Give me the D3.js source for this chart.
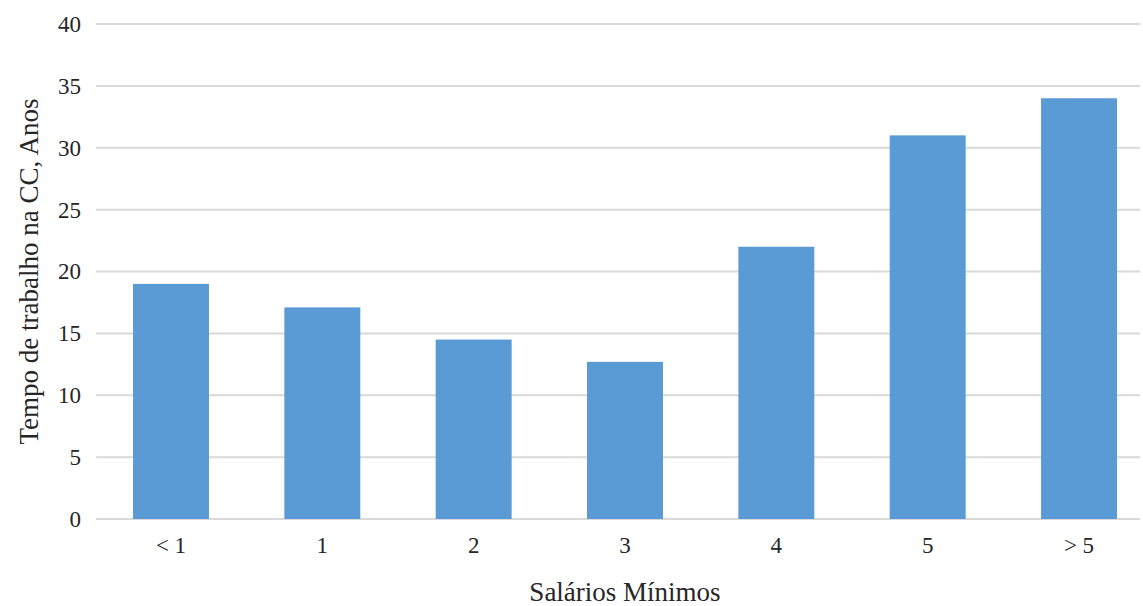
<!DOCTYPE html>
<html>
<head>
<meta charset="utf-8">
<script src="https://cdn.jsdelivr.net/npm/d3@7"></script>
<style>
  html, body { margin: 0; padding: 0; background: #fff; }
  svg { display: block; }
  svg text { font-family: "Liberation Serif", "Times New Roman", "DejaVu Serif", serif; fill: #262626; }
</style>
</head>
<body>
<svg id="chart" width="1143" height="606"></svg>
<script>
// Salary bands (in minimum wages) and mean years worked
const categories = ["< 1", "1", "2", "3", "4", "5", "> 5"];
const years = [19, 17.1, 14.5, 12.7, 22, 31, 34];
const yTicks = [0, 5, 10, 15, 20, 25, 30, 35, 40];
const xTitle = "Salários Mínimos";
const yTitle = "Tempo de trabalho na CC, Anos";

const svg = d3.select("#chart");
const W = 1143, H = 606;
const plot = { left: 96, right: 1140, top: 24, bottom: 519 };

const x = d3.scaleBand()
  .domain(categories)
  .range([plot.left, 1154])
  .paddingInner(0.498)
  .paddingOuter(0.2445);

const y = d3.scaleLinear()
  .domain([0, 40])
  .range([plot.bottom, plot.top]);

// horizontal gridlines
svg.append("g")
  .selectAll("line")
  .data(yTicks)
  .join("line")
  .attr("x1", plot.left)
  .attr("x2", plot.right)
  .attr("y1", d => y(d))
  .attr("y2", d => y(d))
  .attr("stroke", "#d9d9d9")
  .attr("stroke-width", 2);

// y-axis tick labels
const yAxis = svg.append("g")
  .attr("transform", `translate(${plot.left - 15},0)`)
  .call(d3.axisLeft(y).tickValues(yTicks).tickSize(0).tickPadding(0));
yAxis.attr("font-family", null);
yAxis.select(".domain").remove();
yAxis.selectAll("text")
  .attr("font-size", 23)
  .attr("fill", null);

// bars
svg.append("g")
  .selectAll("rect")
  .data(categories)
  .join("rect")
  .attr("x", d => x(d))
  .attr("width", x.bandwidth())
  .attr("y", (d, i) => y(years[i]))
  .attr("height", (d, i) => y(0) - y(years[i]))
  .attr("fill", "#5b9bd5");

// x-axis labels
const xAxis = svg.append("g")
  .attr("transform", `translate(0,${y(0) + 18})`)
  .call(d3.axisBottom(x).tickSize(0).tickPadding(0));
xAxis.attr("font-family", null);
xAxis.select(".domain").remove();
xAxis.selectAll("text")
  .attr("font-size", 23)
  .attr("fill", null);

// axis titles
svg.append("text")
  .attr("x", 625)
  .attr("y", 601)
  .attr("text-anchor", "middle")
  .attr("font-size", 27)
  .text(xTitle);

svg.append("text")
  .attr("transform", `translate(38,${(plot.top + plot.bottom) / 2}) rotate(-90)`)
  .attr("text-anchor", "middle")
  .attr("font-size", 27)
  .text(yTitle);
</script>
</body>
</html>
